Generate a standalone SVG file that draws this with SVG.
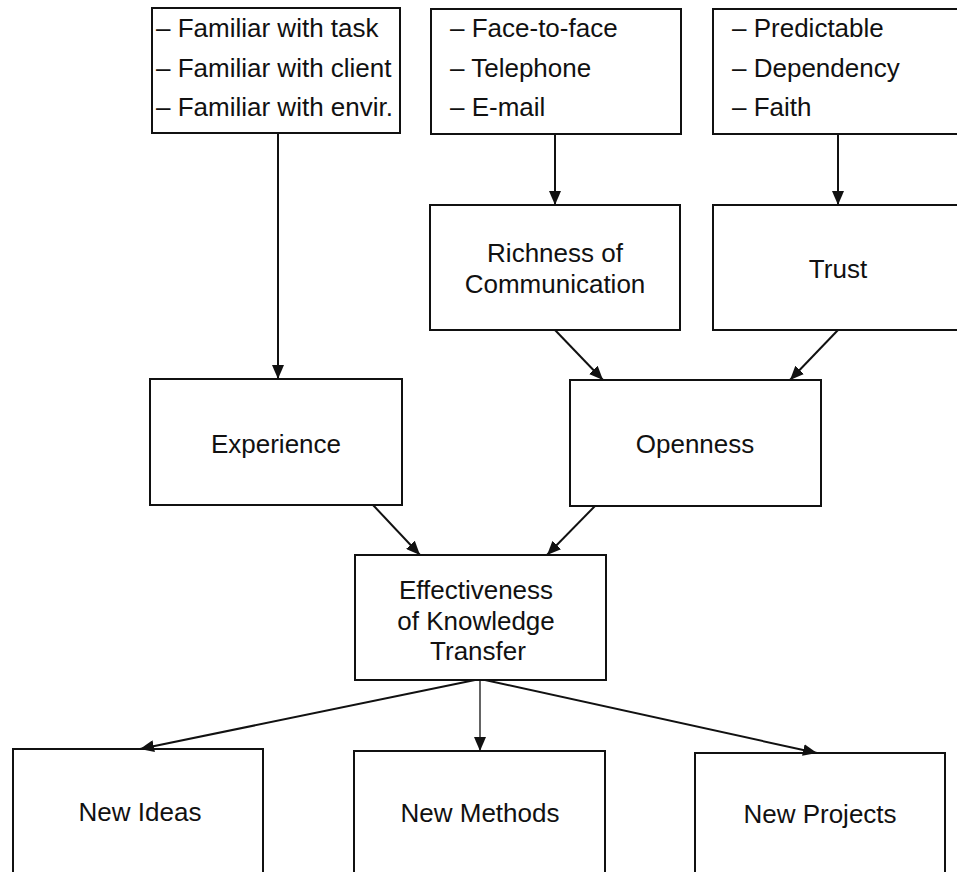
<svg xmlns="http://www.w3.org/2000/svg" width="957" height="872" viewBox="0 0 957 872">
<defs>
<style>
.box{fill:#fff;stroke:#111;stroke-width:2}
.t{font-family:"Liberation Sans",Arial,Helvetica,sans-serif;font-size:26px;fill:#111}
.c{text-anchor:middle}
.ln{stroke:#111;stroke-width:2;fill:none}
.thin{stroke-width:1.3}
</style>
<marker id="ah" markerUnits="userSpaceOnUse" markerWidth="14" markerHeight="12" refX="14" refY="6" orient="auto">
<path d="M0,0 L14,6 L0,12 z" fill="#111"/>
</marker>
</defs>
<rect width="957" height="872" fill="#fff"/>

<g id="familiar">
<rect class="box" x="152" y="8" width="248" height="125"/>
<text class="t" x="156" y="37">– Familiar with task</text>
<text class="t" x="156" y="77">– Familiar with client</text>
<text class="t" x="156" y="116">– Familiar with envir.</text>
</g>
<g id="channels">
<rect class="box" x="431" y="9" width="250" height="125"/>
<text class="t" x="450" y="37">– Face-to-face</text>
<text class="t" x="450" y="77">– Telephone</text>
<text class="t" x="450" y="116">– E-mail</text>
</g>
<g id="trustitems">
<rect class="box" x="713" y="9" width="260" height="125"/>
<text class="t" x="732" y="37">– Predictable</text>
<text class="t" x="732" y="77">– Dependency</text>
<text class="t" x="732" y="116">– Faith</text>
</g>
<g id="richness">
<rect class="box" x="430" y="205" width="250" height="125"/>
<text class="t c" x="555" y="262">Richness of</text>
<text class="t c" x="555" y="293">Communication</text>
</g>
<g id="trust">
<rect class="box" x="713" y="205" width="260" height="125"/>
<text class="t c" x="838" y="278">Trust</text>
</g>
<g id="experience">
<rect class="box" x="150" y="379" width="252" height="126"/>
<text class="t c" x="276" y="453">Experience</text>
</g>
<g id="openness">
<rect class="box" x="570" y="380" width="251" height="126"/>
<text class="t c" x="695" y="453">Openness</text>
</g>
<g id="effectiveness">
<rect class="box" x="355" y="555" width="251" height="125"/>
<text class="t c" x="476" y="599">Effectiveness</text>
<text class="t c" x="476" y="630">of Knowledge</text>
<text class="t c" x="478" y="660">Transfer</text>
</g>
<g id="newideas">
<rect class="box" x="13" y="749" width="250" height="140"/>
<text class="t c" x="140" y="821">New Ideas</text>
</g>
<g id="newmethods">
<rect class="box" x="354" y="751" width="251" height="140"/>
<text class="t c" x="480" y="822">New Methods</text>
</g>
<g id="newprojects">
<rect class="box" x="695" y="753" width="250" height="140"/>
<text class="t c" x="820" y="823">New Projects</text>
</g>

<g id="connectors">
<line class="ln" x1="278" y1="133" x2="278" y2="379" marker-end="url(#ah)"/>
<line class="ln" x1="555" y1="134" x2="555" y2="205" marker-end="url(#ah)"/>
<line class="ln" x1="838" y1="134" x2="838" y2="205" marker-end="url(#ah)"/>
<line class="ln" x1="555" y1="330" x2="603" y2="380" marker-end="url(#ah)"/>
<line class="ln" x1="838" y1="330" x2="790" y2="380" marker-end="url(#ah)"/>
<line class="ln" x1="373" y1="505" x2="420" y2="555" marker-end="url(#ah)"/>
<line class="ln" x1="595" y1="506" x2="547" y2="555" marker-end="url(#ah)"/>
<line class="ln" x1="475" y1="680" x2="140" y2="749" marker-end="url(#ah)"/>
<line class="ln thin" x1="480" y1="680" x2="480" y2="751" marker-end="url(#ah)"/>
<line class="ln" x1="485" y1="680" x2="817" y2="753" marker-end="url(#ah)"/>
</g>
</svg>
